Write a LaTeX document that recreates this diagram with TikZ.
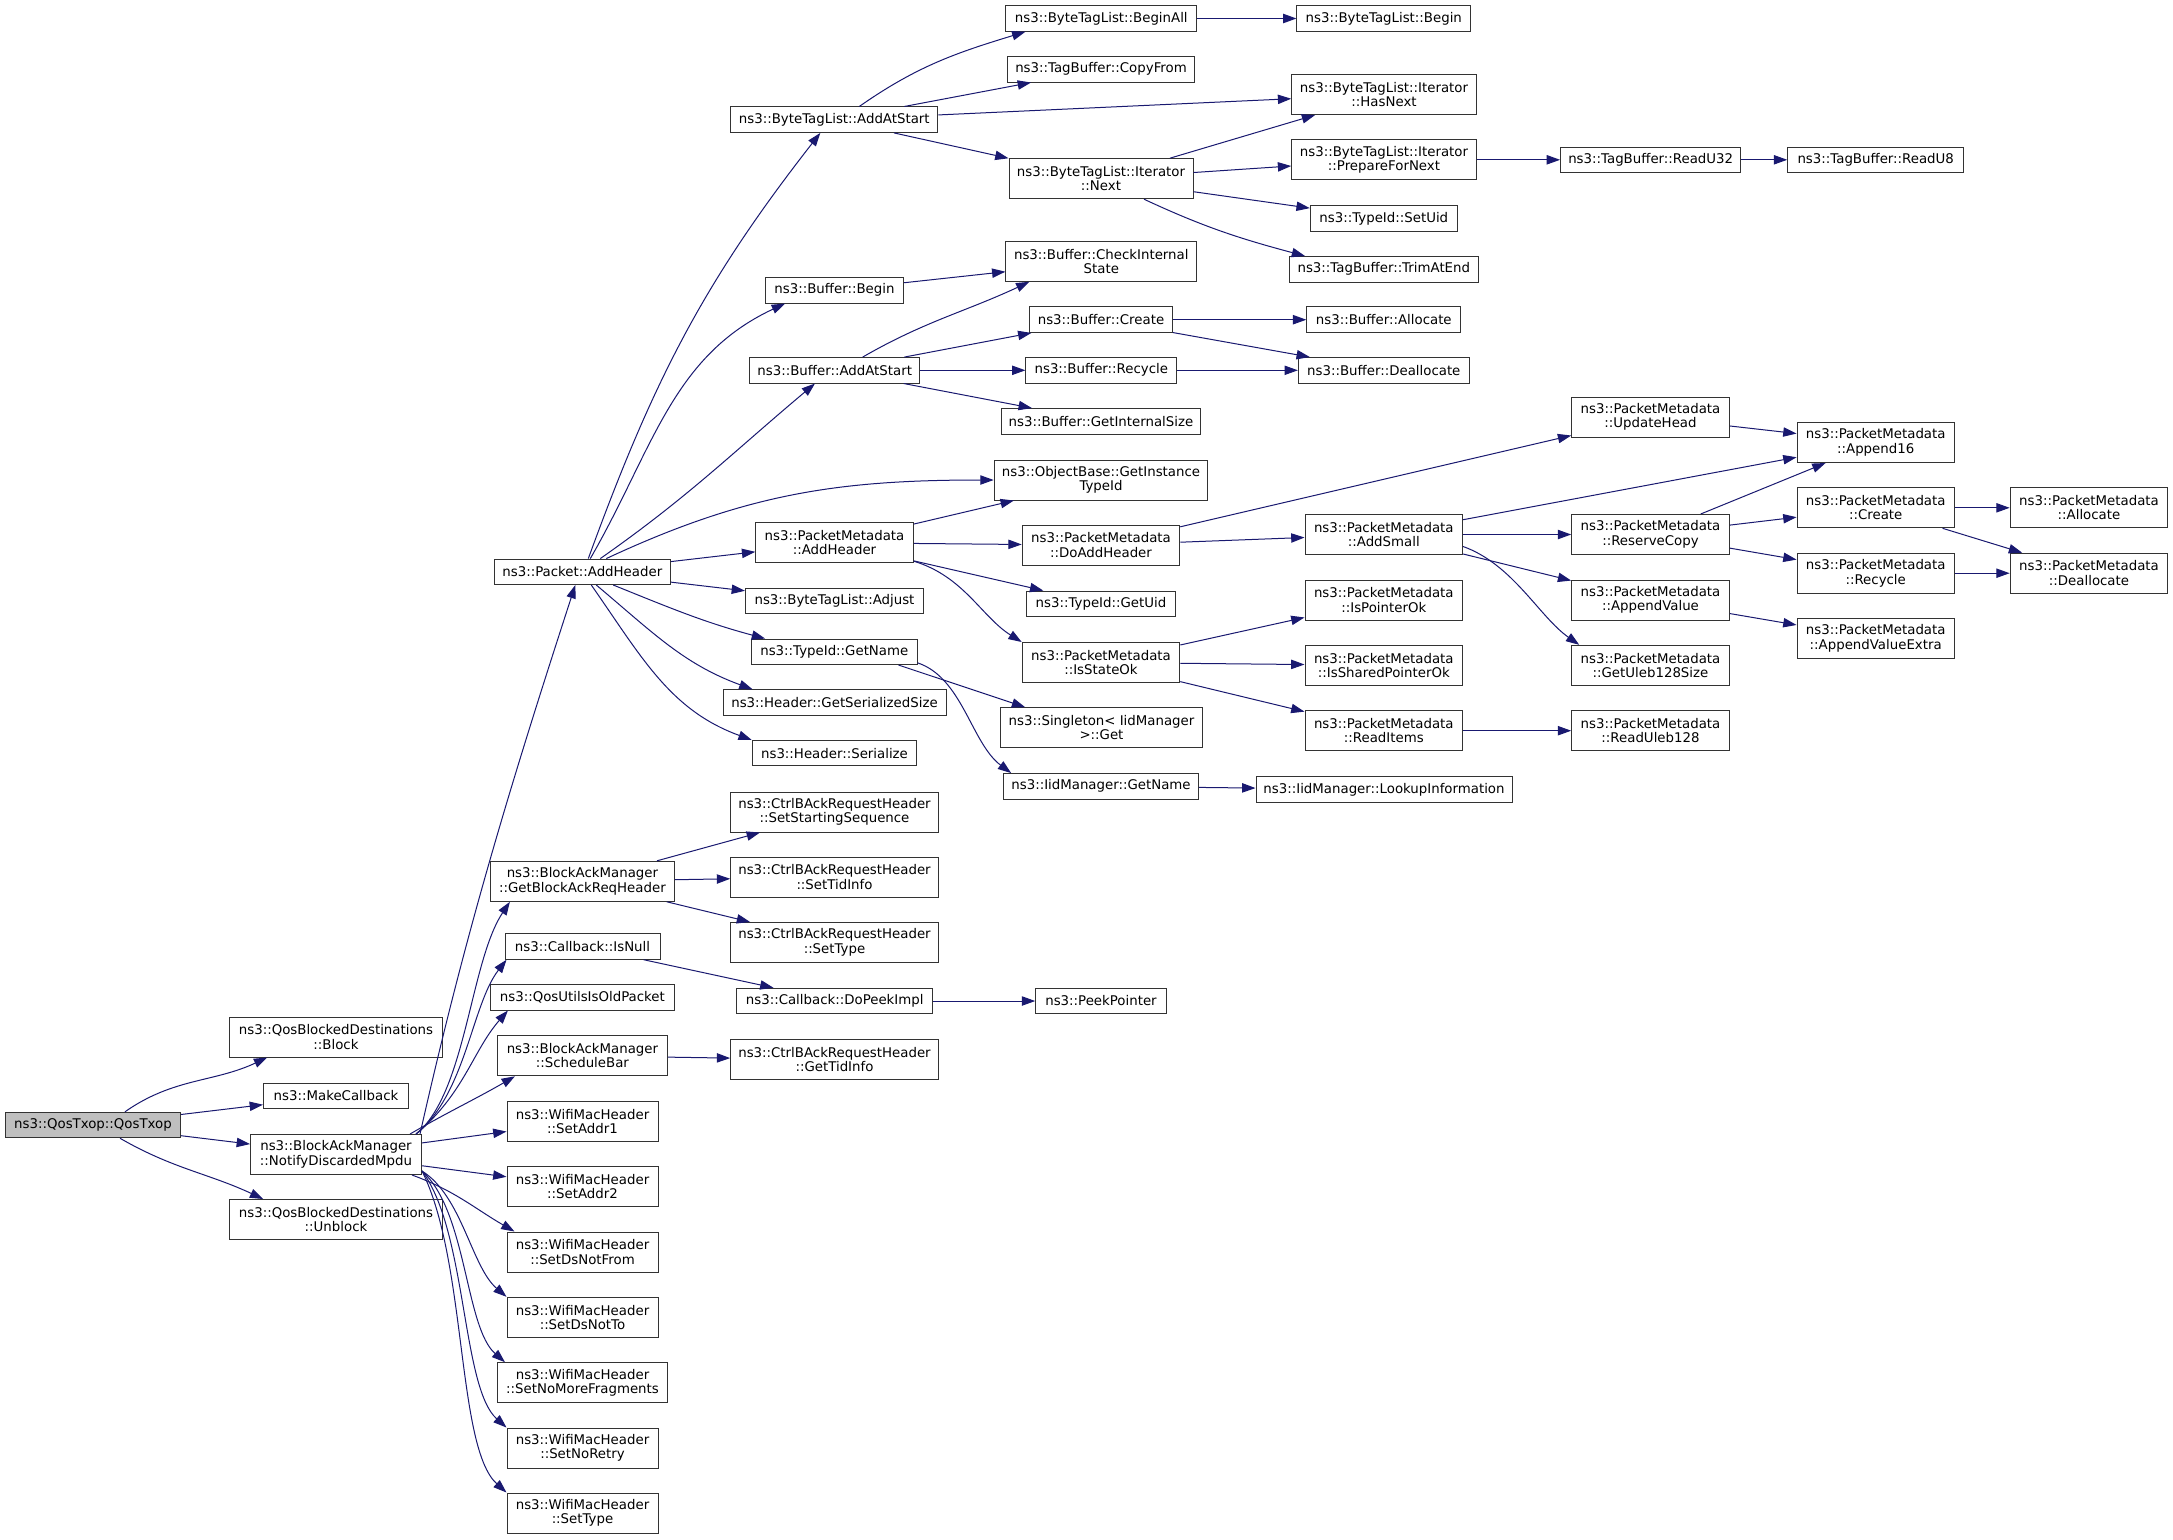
\documentclass[tikz,border=0pt]{standalone}
\usepackage{fontspec}
\setmainfont{DejaVu Sans}
\usetikzlibrary{arrows.meta,calc}
\definecolor{edgeblue}{HTML}{191970}
\definecolor{rootfill}{HTML}{BFBFBF}
\definecolor{boxline}{HTML}{333333}
\tikzset{
  box/.style={draw=boxline, fill=white, line width=0.75pt, inner sep=0pt, align=center,
     font=\fontsize{10}{10.8}\selectfont, minimum height=19.1pt},
  two/.style={minimum height=30pt},
  bw/.style={minimum width=#1*0.75pt},
  calledge/.style={draw=edgeblue, line width=0.75pt, -{Triangle[length=10pt,width=7pt]}},
}
\begin{document}
\begin{tikzpicture}[x=0.75pt,y=-0.75pt]
\path[use as bounding box, fill=white] (0,0) rectangle (2173,1539);

% column 0 / 1
\node[box,bw=175,fill=rootfill] (qos) at (93,1125) {ns3::QosTxop::QosTxop};
\node[box,two,bw=212.5] (block) at (336,1037) {ns3::QosBlockedDestinations\\::Block};
\node[box,bw=145] (makecb) at (336,1096) {ns3::MakeCallback};
\node[box,two,bw=171] (notify) at (336,1154.5) {ns3::BlockAckManager\\::NotifyDiscardedMpdu};
\node[box,two,bw=212.5] (unblock) at (336,1219.5) {ns3::QosBlockedDestinations\\::Unblock};

% column 2
\node[box,bw=176] (pktadd) at (582.3,571.8) {ns3::Packet::AddHeader};
\node[box,two,bw=184] (getbar) at (582.4,881.3) {ns3::BlockAckManager\\::GetBlockAckReqHeader};
\node[box,bw=155] (isnull) at (582.5,946.5) {ns3::Callback::IsNull};
\node[box,bw=184] (qosutils) at (582.4,997.3) {ns3::QosUtilsIsOldPacket};
\node[box,two,bw=170] (schedbar) at (582.4,1055.8) {ns3::BlockAckManager\\::ScheduleBar};
\node[box,two,bw=151] (addr1) at (582.5,1121.3) {ns3::WifiMacHeader\\::SetAddr1};
\node[box,two,bw=151] (addr2) at (582.5,1186.7) {ns3::WifiMacHeader\\::SetAddr2};
\node[box,two,bw=151] (dsfrom) at (582.5,1252) {ns3::WifiMacHeader\\::SetDsNotFrom};
\node[box,two,bw=151] (dsto) at (582.5,1317.3) {ns3::WifiMacHeader\\::SetDsNotTo};
\node[box,two,bw=170] (nomore) at (582.5,1382.7) {ns3::WifiMacHeader\\::SetNoMoreFragments};
\node[box,two,bw=151] (noretry) at (582.5,1448) {ns3::WifiMacHeader\\::SetNoRetry};
\node[box,two,bw=151] (settype) at (582.5,1513) {ns3::WifiMacHeader\\::SetType};

% column 3
\node[box,bw=207] (btladd) at (834.3,119.7) {ns3::ByteTagList::AddAtStart};
\node[box,bw=138] (bufbegin) at (834.5,290.3) {ns3::Buffer::Begin};
\node[box,bw=170.5] (bufadd) at (834.7,370.3) {ns3::Buffer::AddAtStart};
\node[box,two,bw=157.5] (pmaddh) at (834.5,542.7) {ns3::PacketMetadata\\::AddHeader};
\node[box,bw=178] (btladj) at (834.5,601.2) {ns3::ByteTagList::Adjust};
\node[box,bw=165.4] (getname) at (834.3,651.8) {ns3::TypeId::GetName};
\node[box,bw=223] (gss) at (834.5,702.5) {ns3::Header::GetSerializedSize};
\node[box,bw=164.5] (ser) at (834.5,753.2) {ns3::Header::Serialize};
\node[box,two,bw=207.7] (sss) at (834.5,812) {ns3::CtrlBAckRequestHeader\\::SetStartingSequence};
\node[box,two,bw=207.7] (stid) at (834.5,877) {ns3::CtrlBAckRequestHeader\\::SetTidInfo};
\node[box,two,bw=207.7] (stype) at (834.5,942.5) {ns3::CtrlBAckRequestHeader\\::SetType};
\node[box,bw=196] (dopeek) at (834.7,1001) {ns3::Callback::DoPeekImpl};
\node[box,two,bw=207.7] (gtid) at (834.5,1059.7) {ns3::CtrlBAckRequestHeader\\::GetTidInfo};

% column 4
\node[box,bw=190.8] (beginall) at (1101.3,18.5) {ns3::ByteTagList::BeginAll};
\node[box,bw=186.7] (copyfrom) at (1101,69.3) {ns3::TagBuffer::CopyFrom};
\node[box,two,bw=184] (next) at (1101,178.7) {ns3::ByteTagList::Iterator\\::Next};
\node[box,two,bw=190.8] (check) at (1101.3,261.3) {ns3::Buffer::CheckInternal\\State};
\node[box,bw=142.7] (bcreate) at (1101,319.7) {ns3::Buffer::Create};
\node[box,bw=150.8] (brecycle) at (1101.3,370.3) {ns3::Buffer::Recycle};
\node[box,bw=199.7] (gis) at (1101,421.3) {ns3::Buffer::GetInternalSize};
\node[box,two,bw=213.7] (gitid) at (1101,480) {ns3::ObjectBase::GetInstance\\TypeId};
\node[box,two,bw=157.6] (doadd) at (1101,545.2) {ns3::PacketMetadata\\::DoAddHeader};
\node[box,bw=148.3] (getuid) at (1101,603.8) {ns3::TypeId::GetUid};
\node[box,two,bw=157.6] (isstate) at (1101,662.5) {ns3::PacketMetadata\\::IsStateOk};
\node[box,two,bw=201.7] (singleton) at (1101.5,727.7) {ns3::Singleton< IidManager\\>::Get};
\node[box,bw=194.7] (iidname) at (1101,786.3) {ns3::IidManager::GetName};
\node[box,bw=130.6] (peek) at (1101,1001) {ns3::PeekPointer};

% column 5
\node[box,bw=173.7] (btlbegin) at (1383.8,18.5) {ns3::ByteTagList::Begin};
\node[box,two,bw=184.6] (hasnext) at (1384,94.5) {ns3::ByteTagList::Iterator\\::HasNext};
\node[box,two,bw=184.6] (prep) at (1384,159.8) {ns3::ByteTagList::Iterator\\::PrepareForNext};
\node[box,bw=147] (setuid) at (1383.8,218.5) {ns3::TypeId::SetUid};
\node[box,bw=188.4] (trim) at (1383.8,269.3) {ns3::TagBuffer::TrimAtEnd};
\node[box,bw=154] (balloc) at (1383.8,319.7) {ns3::Buffer::Allocate};
\node[box,bw=170.9] (bdealloc) at (1383.8,370.3) {ns3::Buffer::Deallocate};
\node[box,two,bw=157.6] (addsmall) at (1383.8,534.5) {ns3::PacketMetadata\\::AddSmall};
\node[box,two,bw=157.6] (isptr) at (1383.8,600) {ns3::PacketMetadata\\::IsPointerOk};
\node[box,two,bw=157.6] (isshared) at (1383.8,665.3) {ns3::PacketMetadata\\::IsSharedPointerOk};
\node[box,two,bw=157.6] (readitems) at (1383.8,730.7) {ns3::PacketMetadata\\::ReadItems};
\node[box,bw=256] (lookup) at (1384,789.5) {ns3::IidManager::LookupInformation};

% column 6
\node[box,bw=180.3] (readu32) at (1650.7,159.8) {ns3::TagBuffer::ReadU32};
\node[box,two,bw=157.6] (update) at (1650.5,417) {ns3::PacketMetadata\\::UpdateHead};
\node[box,two,bw=157.6] (reserve) at (1650.5,534.5) {ns3::PacketMetadata\\::ReserveCopy};
\node[box,two,bw=157.6] (appval) at (1650.5,600) {ns3::PacketMetadata\\::AppendValue};
\node[box,two,bw=157.6] (uleb) at (1650.5,665.3) {ns3::PacketMetadata\\::GetUleb128Size};
\node[box,two,bw=157.6] (readuleb) at (1650.5,730.7) {ns3::PacketMetadata\\::ReadUleb128};

% column 7
\node[box,bw=176] (readu8) at (1875.7,159.8) {ns3::TagBuffer::ReadU8};
\node[box,two,bw=157.3] (append16) at (1875.7,442.5) {ns3::PacketMetadata\\::Append16};
\node[box,two,bw=157.3] (pmcreate) at (1875.7,507.8) {ns3::PacketMetadata\\::Create};
\node[box,two,bw=157.3] (pmrecycle) at (1875.7,573.2) {ns3::PacketMetadata\\::Recycle};
\node[box,two,bw=157.3] (appextra) at (1875.7,638.5) {ns3::PacketMetadata\\::AppendValueExtra};

% column 8
\node[box,two,bw=157.7] (pmalloc) at (2089,507.8) {ns3::PacketMetadata\\::Allocate};
\node[box,two,bw=157.7] (pmdealloc) at (2089,573.2) {ns3::PacketMetadata\\::Deallocate};

% ---- edges from QosTxop
\draw[calledge] ($(qos.north)+(32,0)$) to[out=35,in=-155] ($(block.south west)+(38,0)$);
\draw[calledge] (qos) -- (makecb);
\draw[calledge] (qos) -- (notify);
\draw[calledge] ($(qos.south)+(27,0)$) to[out=-30,in=155] ($(unblock.north west)+(34,0)$);

% ---- edges from NotifyDiscardedMpdu
\draw[calledge] ($(notify.north east)+(-2,0)$) .. controls +(45,-200) and +(-65,200) .. ($(pktadd.south)+(-7,0)$);
\draw[calledge] ($(notify.north east)+(-6,0)$) .. controls +(50,-40) and +(-40,60) .. ($(getbar.south west)+(20,0)$);
\draw[calledge] ($(notify.north east)+(-6,0)$) .. controls +(50,-40) and +(-35,45) .. ($(isnull.south west)+(2,0)$);
\draw[calledge] ($(notify.north east)+(-6,0)$) .. controls +(48,-40) and +(-35,40) .. ($(qosutils.south west)+(18,0)$);
\draw[calledge] ($(notify.north east)+(-12,0)$) to[out=30,in=-150] ($(schedbar.south west)+(18,0)$);
\draw[calledge] (notify) -- (addr1);
\draw[calledge] (notify) -- (addr2);
\draw[calledge] ($(notify.south east)+(-10,0)$) to[out=-20,in=150] ($(dsfrom.north west)+(8,0)$);
\draw[calledge] ($(notify.south east)+(0,-4)$) .. controls +(40,25) and +(-35,-30) .. (dsto.north west);
\draw[calledge] ($(notify.south east)+(0,-4)$) .. controls +(45,40) and +(-40,-35) .. ($(nomore.north west)+(8,0)$);
\draw[calledge] ($(notify.south east)+(0,-4)$) .. controls +(45,60) and +(-45,-40) .. (noretry.north west);
\draw[calledge] ($(notify.south east)+(0,-4)$) .. controls +(45,90) and +(-50,-45) .. (settype.north west);

% ---- edges from Packet::AddHeader
\draw[calledge] ($(pktadd.north)+(6,0)$) to[out=70,in=-128] ($(btladd.south west)+(90,0)$);
\draw[calledge] ($(pktadd.north)+(8,0)$) to[out=60,in=-155] ($(bufbegin.south west)+(20,0)$);
\draw[calledge] ($(pktadd.north)+(18,0)$) to[out=35,in=-140] ($(bufadd.south west)+(66,0)$);
\draw[calledge] ($(pktadd.north)+(24,0)$) to[out=25,in=180] (gitid.west);
\draw[calledge] (pktadd) -- (pmaddh);
\draw[calledge] (pktadd) -- (btladj);
\draw[calledge] ($(pktadd.south)+(31,0)$) to[out=-22,in=165] ($(getname.north west)+(14,0)$);
\draw[calledge] ($(pktadd.south)+(14,0)$) to[out=-40,in=160] ($(gss.north west)+(30,0)$);
\draw[calledge] ($(pktadd.south)+(9,0)$) to[out=-55,in=160] (ser.north west);

% ---- ByteTagList::AddAtStart
\draw[calledge] ($(btladd.north)+(25,0)$) to[out=35,in=-163] ($(beginall.south west)+(20,0)$);
\draw[calledge] (btladd) -- (copyfrom);
\draw[calledge] (btladd) -- (hasnext);
\draw[calledge] (btladd) -- (next);
\draw[calledge] (beginall) -- (btlbegin);

% ---- Iterator::Next
\draw[calledge] (next) -- (hasnext);
\draw[calledge] (next) -- (prep);
\draw[calledge] (next) -- (setuid);
\draw[calledge] ($(next.south)+(43,0)$) to[out=-25,in=165] ($(trim.north west)+(16,0)$);
\draw[calledge] (prep) -- (readu32);
\draw[calledge] (readu32) -- (readu8);

% ---- Buffer
\draw[calledge] (bufbegin) -- (check);
\draw[calledge] ($(bufadd.north)+(28,0)$) to[out=30,in=-155] ($(check.south west)+(24,0)$);
\draw[calledge] (bufadd) -- (bcreate);
\draw[calledge] (bufadd) -- (brecycle);
\draw[calledge] (bufadd) -- (gis);
\draw[calledge] (bcreate) -- (balloc);
\draw[calledge] (bcreate) -- (bdealloc);
\draw[calledge] (brecycle) -- (bdealloc);

% ---- PacketMetadata::AddHeader
\draw[calledge] (pmaddh) -- (gitid);
\draw[calledge] (pmaddh) -- (doadd);
\draw[calledge] (pmaddh) -- (getuid);
\draw[calledge] ($(pmaddh.south east)+(0,-2)$) .. controls +(50,15) and +(-40,-25) .. (isstate.north west);
\draw[calledge] (doadd) -- (update);
\draw[calledge] (doadd) -- (addsmall);
\draw[calledge] (update) -- (append16);
\draw[calledge] (addsmall) -- (append16);
\draw[calledge] (addsmall) -- (reserve);
\draw[calledge] (addsmall) -- (appval);
\draw[calledge] ($(addsmall.east)+(0,12)$) .. controls +(50,18) and +(-40,-28) .. ($(uleb.north west)+(8,0)$);
\draw[calledge] (reserve) -- (append16);
\draw[calledge] (reserve) -- (pmcreate);
\draw[calledge] (reserve) -- (pmrecycle);
\draw[calledge] (pmcreate) -- (pmalloc);
\draw[calledge] (pmcreate) -- (pmdealloc);
\draw[calledge] (pmrecycle) -- (pmdealloc);
\draw[calledge] (appval) -- (appextra);
\draw[calledge] (isstate) -- (isptr);
\draw[calledge] (isstate) -- (isshared);
\draw[calledge] (isstate) -- (readitems);
\draw[calledge] (readitems) -- (readuleb);

% ---- TypeId::GetName
\draw[calledge] ($(getname.south east)+(-19,0)$) -- ($(singleton.north west)+(25,0)$);
\draw[calledge] ($(getname.east)+(0,11)$) .. controls +(45,15) and +(-40,-30) .. ($(iidname.north west)+(8,0)$);
\draw[calledge] (iidname) -- (lookup);

% ---- BlockAck
\draw[calledge] (getbar) -- (sss);
\draw[calledge] (getbar) -- (stid);
\draw[calledge] (getbar) -- (stype);
\draw[calledge] (isnull) -- (dopeek);
\draw[calledge] (dopeek) -- (peek);
\draw[calledge] (schedbar) -- (gtid);
\end{tikzpicture}
\end{document}
